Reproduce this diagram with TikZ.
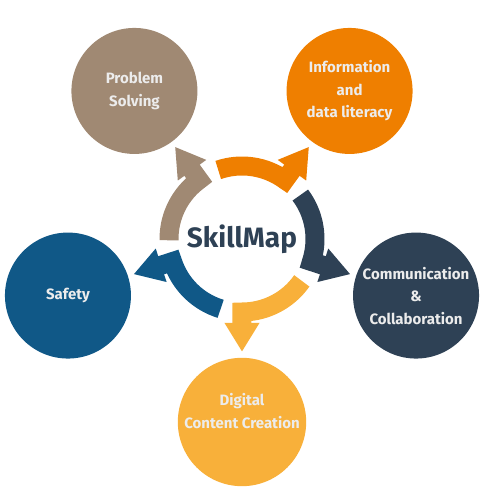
\documentclass[tikz,border=0pt]{standalone}
\usepackage{fontspec}
\setmainfont{Fira Sans}
\usepackage{tikz}
\usetikzlibrary{arrows.meta,calc}
\definecolor{skilltan}{HTML}{A08973}
\definecolor{skillorange}{HTML}{EF7F00}
\definecolor{skillnavy}{HTML}{2E4155}
\definecolor{skillyellow}{HTML}{F8B03A}
\definecolor{skillblue}{HTML}{105887}
\definecolor{textlight}{HTML}{ECECEC}

\begin{document}
\begin{tikzpicture}[x=1pt,y=1pt,
  skill/.style={circle,minimum size=126pt,inner sep=0pt,outer sep=0pt,align=center,
    font=\fontsize{15}{22.5}\selectfont\bfseries,text=textlight},
  ringarrow/.style={line width=19pt,line join=miter,shorten >=6pt,
    -{Triangle[width=33pt,length=29pt]}}]
\useasboundingbox (-242,-254) rectangle (238,239);

\node[font=\fontsize{28}{30}\selectfont\bfseries,text=skillnavy] (hub) at (0,0) {SkillMap};

\node[skill,fill=skilltan] (solving) at (126:183) {Problem\\Solving};
\node[skill,fill=skillorange] (info) at (54:183) {Information\\and\\data literacy};
\node[skill,fill=skillnavy] (comm) at (-18:183) {Communication\\\&\\Collaboration};
\node[skill,fill=skillyellow] (digital) at (-90:183) {Digital\\Content Creation\\\mbox{}};
\node[skill,fill=skillblue] (safety) at (198:183) {Safety};

% arcs round the hub, each turning out to its skill
\foreach \a/\col/\target in {126/skilltan/solving,54/skillorange/info,-18/skillnavy/comm,
                             -90/skillyellow/digital,198/skillblue/safety}{
  \draw[ringarrow,\col] ({\a+55}:73) arc[start angle=\a+55,end angle=\a,radius=73] -- (\target);
}

\end{tikzpicture}
\end{document}
